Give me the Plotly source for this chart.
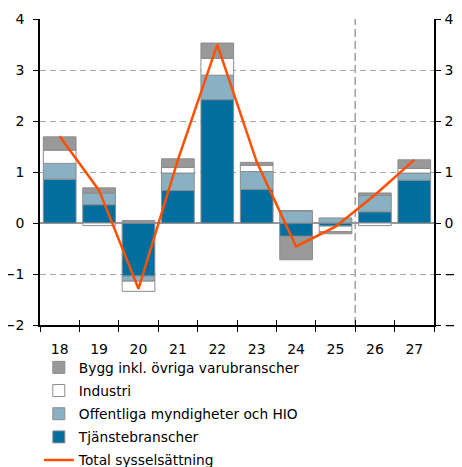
import plotly.graph_objects as go

years = ["18", "19", "20", "21", "22", "23", "24", "25", "26", "27"]
tjanste = [0.86, 0.36, -1.04, 0.64, 2.42, 0.66, -0.26, -0.06, 0.22, 0.84]
offentliga = [0.31, 0.23, -0.10, 0.34, 0.48, 0.35, 0.24, 0.10, 0.32, 0.14]
industri = [0.26, -0.05, -0.20, 0.11, 0.33, 0.12, 0.0, -0.11, -0.05, 0.09]
bygg = [0.26, 0.10, 0.05, 0.17, 0.30, 0.06, -0.46, -0.04, 0.05, 0.17]
total = [1.70, 0.64, -1.29, 1.24, 3.50, 1.20, -0.46, -0.07, 0.55, 1.24]
forecast_start = "26"

FONT = "DejaVu Sans"
outline = dict(color="#8c8c8c", width=1)

fig = go.Figure()
series = [
    ("Tjänstebranscher", tjanste, "#006f9f", 4),
    ("Offentliga myndigheter och HIO", offentliga, "#8ab0c3", 3),
    ("Industri", industri, "#ffffff", 2),
    ("Bygg inkl. övriga varubranscher", bygg, "#999999", 1),
]
for name, vals, col, rank in series:
    fig.add_trace(go.Bar(
        x=years, y=vals, name=name, marker=dict(color=col, line=outline),
        legendrank=rank, legendgroup=name,
    ))
fig.add_trace(go.Scatter(
    x=years, y=total, name="Total sysselsättning", mode="lines",
    line=dict(color="#ff5000", width=2.5), legendrank=5, legendgroup="total",
))
# invisible trace for the secondary (right / inner-tick) axes
fig.add_trace(go.Scatter(x=years, y=total, xaxis="x2", yaxis="y2", mode="lines",
                         line=dict(width=0), showlegend=False, hoverinfo="skip",
                         opacity=0))

div_x = years.index(forecast_start) - 0.5
fig.add_shape(type="line", xref="x", yref="paper", x0=div_x, x1=div_x, y0=0, y1=1,
              line=dict(color="#a0a0a0", width=1.5, dash="8px,4px"), layer="below")

tickfont = dict(family=FONT, size=14, color="#000000")
yax = dict(range=[-2, 4.002], tickvals=[-2, -1, 0, 1, 2, 3, 4], showgrid=True,
           gridcolor="#a6a6a6", griddash="6px,4px", gridwidth=1,
           zeroline=True, zerolinecolor="#999999", zerolinewidth=2,
           showline=True, linecolor="#000000", linewidth=1.5,
           ticks="outside", ticklen=5, tickcolor="#000000", automargin=False,
           tickfont=tickfont)
xax = dict(type="category", tickson="boundaries", ticklen=5, tickcolor="#000000",
           showline=True, linecolor="#000000", linewidth=1.5, showgrid=False,
           automargin=False, tickfont=tickfont)

fig.update_layout(
    width=454, height=459,
    margin=dict(l=32, r=28, t=11, b=142, autoexpand=False),
    paper_bgcolor="white", plot_bgcolor="white",
    barmode="relative", bargap=0.17,
    font=dict(family=FONT, size=13, color="#000000"),
    xaxis=dict(xax, ticks="outside", ticklabelstandoff=10),
    xaxis2=dict(xax, ticks="inside", overlaying="x", matches="x", anchor="y2",
                showticklabels=False, showline=False),
    yaxis=dict(yax, ticklabelstandoff=6),
    yaxis2=dict(yax, overlaying="y", side="right", matches="y", showgrid=False,
                zeroline=False, anchor="x2", ticklabelstandoff=1),
    legend=dict(x=-0.003, y=-0.088, xanchor="left", yanchor="top",
                orientation="v", traceorder="grouped", tracegroupgap=2.3,
                font=dict(family=FONT, size=13.75, color="#000000"),
                bgcolor="rgba(0,0,0,0)"),
    showlegend=True,
)

fig.write_html("out.html")
